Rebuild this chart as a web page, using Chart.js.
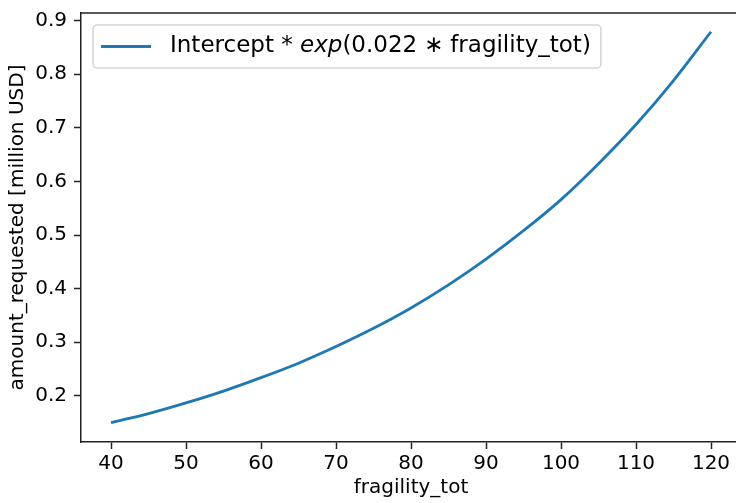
<!DOCTYPE html>
<html lang="en">
<head>
  <meta charset="UTF-8">
  <title>amount_requested vs fragility_tot</title>
  <script src="https://cdn.jsdelivr.net/npm/chart.js"></script>
  <style>
    body {
      margin: 0;
      background: #fff;
      overflow: hidden;
    }
    canvas {
      display: block;
    }
  </style>
</head>
<body>
  <canvas id="chart" width="742" height="503"></canvas>

  <script>
    // values
    const fragility = [40, 45, 50, 55, 60, 65, 70, 75, 80, 85, 90, 95, 100, 105, 110, 115, 120];
    const amount = [0.150, 0.167, 0.187, 0.209, 0.234, 0.261, 0.292, 0.326, 0.364, 0.407, 0.455, 0.508, 0.566, 0.633, 0.706, 0.788, 0.879];
    const xTicks = [40, 50, 60, 70, 80, 90, 100, 110, 120];
    const yTicks = [0.2, 0.3, 0.4, 0.5, 0.6, 0.7, 0.8, 0.9];

    // legend text, "exp" is italic in the original
    const legendParts = [
      { text: 'Intercept * ', italic: false },
      { text: 'exp', italic: true },
      { text: '(0.022\u2009\u200a\u2217\u2009\u200afragility_tot)', italic: false }
    ];

    const FONT = "'DejaVu Sans', sans-serif";
    const BLUE = '#1f77b4';
    const AXIS = '#222';

    const legendPlugin = {
      id: 'mplLegend',
      afterDraw(chart) {
        const ctx = chart.ctx;
        const area = chart.chartArea;
        const size = 23;
        ctx.save();
        let textW = 0;
        legendParts.forEach(p => {
          ctx.font = (p.italic ? 'italic ' : '') + size + 'px ' + FONT;
          textW += ctx.measureText(p.text).width;
        });
        const bx = area.left + 12, by = area.top + 12;
        const bw = 77 + textW + 10, bh = 43;
        ctx.beginPath();
        ctx.roundRect(bx, by, bw, bh, 4);
        ctx.fillStyle = 'rgba(255,255,255,0.8)';
        ctx.fill();
        ctx.strokeStyle = '#d4d4d4';
        ctx.lineWidth = 1.5;
        ctx.stroke();

        const cy = by + bh / 2;
        ctx.beginPath();
        ctx.moveTo(bx + 8, cy);
        ctx.lineTo(bx + 58, cy);
        ctx.strokeStyle = BLUE;
        ctx.lineWidth = 3;
        ctx.stroke();

        let tx = bx + 77;
        ctx.fillStyle = '#000';
        ctx.textBaseline = 'middle';
        legendParts.forEach(p => {
          ctx.font = (p.italic ? 'italic ' : '') + size + 'px ' + FONT;
          ctx.fillText(p.text, tx, cy);
          tx += ctx.measureText(p.text).width;
        });
        ctx.restore();
      }
    };

    new Chart(document.getElementById('chart').getContext('2d'), {
      type: 'line',
      data: {
        datasets: [{
          label: legendParts.map(p => p.text).join(''),
          data: fragility.map((x, i) => ({ x: x, y: amount[i] })),
          borderColor: BLUE,
          borderWidth: 2.8,
          pointRadius: 0,
          fill: false,
          tension: 0.4,
          cubicInterpolationMode: 'monotone'
        }]
      },
      options: {
        responsive: false,
        animation: false,
        devicePixelRatio: 1,
        layout: { padding: { top: 13, right: 1, left: 0, bottom: 0 } },
        plugins: {
          legend: { display: false },
          tooltip: { enabled: false }
        },
        scales: {
          x: {
            type: 'linear',
            min: 36,
            max: 124,
            afterBuildTicks: s => { s.ticks = xTicks.map(v => ({ value: v })); },
            afterFit: s => { s.height = 61; s.paddingLeft = 0; s.paddingRight = 0; },
            grid: {
              drawOnChartArea: false,
              drawTicks: true,
              tickLength: 7,
              tickWidth: 1.5,
              color: AXIS
            },
            border: { color: AXIS, width: 1.5 },
            ticks: {
              color: '#000',
              padding: 3,
              maxRotation: 0,
              font: { family: FONT, size: 20 },
              callback: v => String(v)
            },
            title: {
              display: true,
              text: 'fragility_tot',
              color: '#000',
              font: { family: FONT, size: 20 },
              padding: { top: 0, bottom: 3 }
            }
          },
          y: {
            type: 'linear',
            min: 0.114,
            max: 0.914,
            afterBuildTicks: s => { s.ticks = yTicks.map(v => ({ value: v })); },
            afterFit: s => { s.width = 81; s.paddingTop = 0; s.paddingBottom = 0; },
            grid: {
              drawOnChartArea: false,
              drawTicks: true,
              tickLength: 7,
              tickWidth: 1.5,
              color: AXIS
            },
            border: { color: AXIS, width: 1.5 },
            ticks: {
              color: '#000',
              padding: 7,
              font: { family: FONT, size: 20 },
              callback: v => v.toFixed(1)
            },
            title: {
              display: true,
              text: 'amount_requested [million USD]',
              color: '#000',
              font: { family: FONT, size: 20 },
              padding: { top: 6, bottom: 0 }
            }
          }
        }
      },
      plugins: [legendPlugin, {
        id: 'topSpine',
        afterDraw(chart) {
          const ctx = chart.ctx, a = chart.chartArea;
          ctx.save();
          ctx.strokeStyle = AXIS;
          ctx.lineWidth = 1.5;
          ctx.beginPath();
          ctx.moveTo(a.left, a.top);
          ctx.lineTo(a.right, a.top);
          ctx.moveTo(a.right, a.top);
          ctx.lineTo(a.right, a.bottom);
          ctx.stroke();
          ctx.restore();
        }
      }]
    });
  </script>
</body>
</html>
